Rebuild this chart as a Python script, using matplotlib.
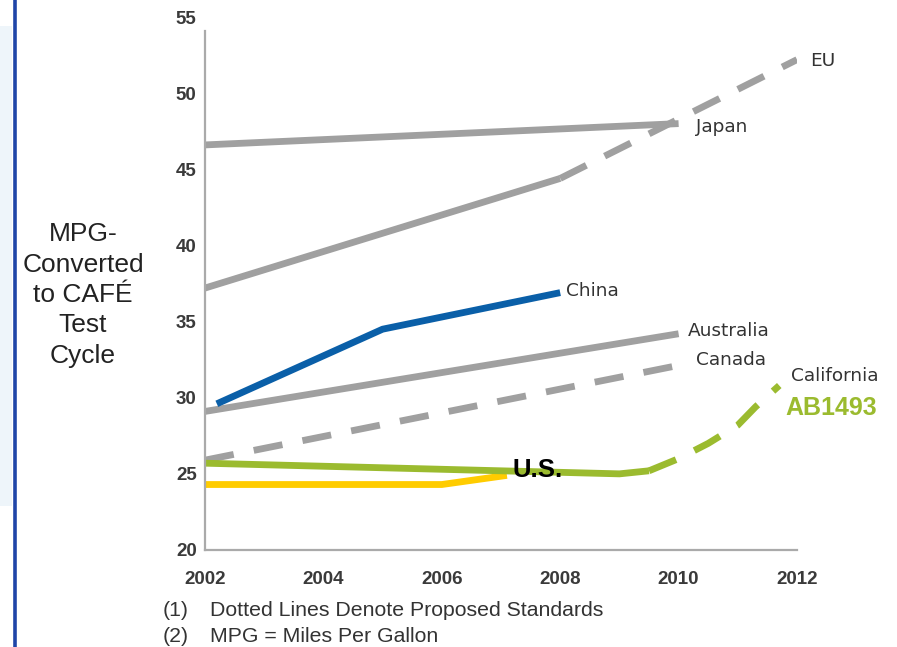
import matplotlib
matplotlib.use("Agg")
import matplotlib.pyplot as plt
from matplotlib.patches import Rectangle
from matplotlib.lines import Line2D

plt.rcParams['font.family'] = ['Liberation Sans', 'DejaVu Sans']

# ---- data ----
japan_x = [2002, 2010]
japan_y = [46.6, 48.0]
eu_x = [2002, 2008]
eu_y = [37.2, 44.4]
eu_prop_x = [2008, 2012]
eu_prop_y = [44.4, 52.2]
china_x = [2002.2, 2005, 2008]
china_y = [29.6, 34.5, 36.9]
australia_x = [2002, 2010]
australia_y = [29.1, 34.2]
canada_x = [2002, 2010.1]
canada_y = [25.9, 32.2]
us_x = [2002, 2006, 2007.1]
us_y = [24.3, 24.3, 24.9]
calif_x = [2002, 2009, 2009.5]
calif_y = [25.7, 25.0, 25.2]
calif_prop_x = [2009.5, 2010.0, 2010.5, 2011.0, 2011.3, 2011.7]
calif_prop_y = [25.2, 26.0, 27.0, 28.2, 29.4, 30.8]

xticks = [2002, 2004, 2006, 2008, 2010, 2012]
yticks = [20, 25, 30, 35, 40, 45, 50, 55]

GRAY = '#a0a0a0'
BLUE = '#0a5fa8'
GREEN = '#9bbb2f'
YELLOW = '#ffcc00'
TXT = '#333333'

fig = plt.figure(figsize=(8.97, 6.47), dpi=100)
fig.patch.set_facecolor('white')

# left decoration: light panel and blue rule
fig.patches.append(Rectangle((0, 1 - 506 / 647), 12 / 897, 480 / 647,
                             transform=fig.transFigure, facecolor='#eef5fa',
                             edgecolor='none', zorder=0))
fig.lines.append(Line2D([14.5 / 897, 14.5 / 897], [0, 1], transform=fig.transFigure,
                        color='#1f45a8', linewidth=2.6))

ax = fig.add_axes([205 / 897, 1 - 550 / 647, 592 / 897, 533 / 647])
ax.set_xlim(2002, 2012)
ax.set_ylim(20, 55)

lw = 4.9
dash = (4.3, 3.0)
ax.plot(japan_x, japan_y, color=GRAY, lw=lw, solid_capstyle='butt')
ax.plot(eu_x, eu_y, color=GRAY, lw=lw, solid_capstyle='butt')
ax.plot(eu_prop_x, eu_prop_y, color=GRAY, lw=lw, dashes=dash, dash_capstyle='butt')
ax.plot(australia_x, australia_y, color=GRAY, lw=lw, solid_capstyle='butt')
ax.plot(canada_x, canada_y, color=GRAY, lw=lw, dashes=dash, dash_capstyle='butt')
ax.plot(us_x, us_y, color=YELLOW, lw=lw, solid_capstyle='butt')
ax.plot(calif_x, calif_y, color=GREEN, lw=lw, solid_capstyle='butt')
ax.plot(calif_prop_x, calif_prop_y, color=GREEN, lw=lw, dashes=dash, dash_capstyle='butt')
ax.plot(china_x, china_y, color=BLUE, lw=lw, solid_capstyle='butt')

# spines
for s in ['top', 'right']:
    ax.spines[s].set_visible(False)
for s in ['left', 'bottom']:
    ax.spines[s].set_color('#aaaaaa')
    ax.spines[s].set_linewidth(1.6)
ax.spines['left'].set_bounds(20, 54.1)

ax.set_xticks(xticks)
ax.set_yticks(yticks)
ax.tick_params(length=0, labelsize=13.5, colors=TXT)
ax.tick_params(axis='y', pad=6)
ax.tick_params(axis='x', pad=15)
for lab in ax.get_xticklabels() + ax.get_yticklabels():
    lab.set_fontweight('bold')
    lab.set_color('#3a3a3a')

# series labels
lab_kw = dict(fontsize=13.3, color=TXT, va='center', ha='left', clip_on=False,
              family='DejaVu Sans')
ax.text(2012.22, 52.1, 'EU', **lab_kw)
ax.text(2010.3, 47.8, 'Japan', **lab_kw)
ax.text(2008.1, 37.0, 'China', **lab_kw)
ax.text(2010.15, 34.4, 'Australia', **lab_kw)
ax.text(2010.3, 32.5, 'Canada', **lab_kw)
ax.text(2011.9, 31.4, 'California', **lab_kw)
ax.text(2011.8, 29.35, 'AB1493', fontsize=18, fontweight='bold', color=GREEN,
        va='center', ha='left', clip_on=False)
ax.text(2007.2, 25.25, 'U.S.', fontsize=18.5, fontweight='bold', color='black',
        va='center', ha='left', zorder=5)

# y label
fig.text(83 / 897, 1 - 295 / 647, 'MPG-\nConverted\nto CAFÉ\nTest\nCycle',
         ha='center', va='center', fontsize=19, color='#222222', linespacing=1.33)

# footnotes
fs = 15.3
fig.text(163 / 897, 1 - 611 / 647, '(1)', fontsize=fs, color=TXT, va='center')
fig.text(210 / 897, 1 - 611 / 647, 'Dotted Lines Denote Proposed Standards',
         fontsize=fs, color=TXT, va='center')
fig.text(163 / 897, 1 - 636 / 647, '(2)', fontsize=fs, color=TXT, va='center')
fig.text(210 / 897, 1 - 636 / 647, 'MPG = Miles Per Gallon',
         fontsize=fs, color=TXT, va='center')

fig.savefig('out.png', dpi=100)
